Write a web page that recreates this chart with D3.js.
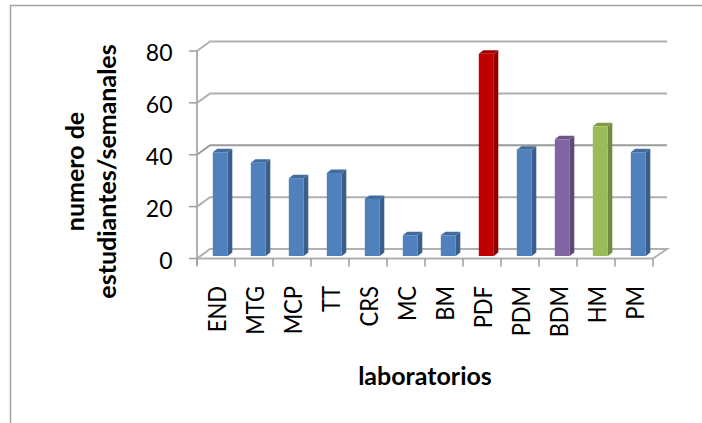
<!DOCTYPE html>
<html><head><meta charset="utf-8">
<script src="https://cdn.jsdelivr.net/npm/d3@7"></script>
<style>html,body{margin:0;padding:0;background:#fff}svg{display:block}text{font-family:Lato,"Open Sans",sans-serif;fill:#000}</style>
</head><body><div id="c"></div>
<script>
const categories=["END","MTG","MCP","TT","CRS","MC","BM","PDF","PDM","BDM","HM","PM"];
const values=[40,36,30,32,22,8,8,78,41,45,50,40];
const barColors=["#4f81bd","#4f81bd","#4f81bd","#4f81bd","#4f81bd","#4f81bd","#4f81bd","#c00000","#4f81bd","#8064a2","#9bbb59","#4f81bd"];
const yTicks=[0,20,40,60,80];
const yTitleLines=["numero de","estudiantes/semanales"];
const xTitle="laboratorios";
const W=702,H=423;
const svg=d3.select("#c").append("svg").attr("width",W).attr("height",H);
const defs=svg.append("defs");
defs.append("filter").attr("id","soft").append("feGaussianBlur").attr("stdDeviation",0.5);
const x=d3.scaleBand().domain(categories).range([197,653]).paddingInner(0).paddingOuter(0);
const y=d3.scaleLinear().domain([0,80]).range([258.5,51]);
const dx=13,dy=-9.5;
// frame
svg.append("path").attr("d",`M10.5,${H}V5.5H${W}`).attr("fill","none").attr("stroke","#a4a4a4").attr("stroke-width",1.5);
const g=svg.append("g").attr("filter","url(#soft)");
// gridlines and side wall
yTicks.forEach(t=>{
  g.append("path").attr("d",`M${x.range()[0]},${y(t)}L${x.range()[0]+dx},${y(t)+dy}H${x.range()[1]+dx+1}`+(t===0?`L${x.range()[1]},${y(t)}`:""))
   .attr("fill","none").attr("stroke",t%40===0&&t>0&&t<80?"#9a9a9a":"#b0b0b0").attr("stroke-width",2);
});
g.append("line").attr("x1",197).attr("x2",197).attr("y1",y(80)).attr("y2",y(0)+6).attr("stroke","#b0b0b0").attr("stroke-width",2);
g.append("line").attr("x1",197).attr("x2",653).attr("y1",y(0)).attr("y2",y(0)).attr("stroke","#b0b0b0").attr("stroke-width",2);
// ticks
g.selectAll(".yt").data(yTicks).join("line").attr("x1",189).attr("x2",197).attr("y1",d=>y(d)).attr("y2",d=>y(d)).attr("stroke","#9c9c9c").attr("stroke-width",1.5);
const xEdges=categories.map(c=>x(c)).concat([x.range()[1]]);
g.selectAll(".xt").data(xEdges).join("line").attr("x1",d=>d).attr("x2",d=>d).attr("y1",y(0)).attr("y2",y(0)+8).attr("stroke","#9c9c9c").attr("stroke-width",1.5);
// bars
const base=y(0)-2.5, bw=15, off=x.bandwidth()/2-3.2, sx=4.5, sy=3.5;
const bars=g.selectAll(".bar").data(categories.map((c,i)=>({c,v:values[i],col:barColors[i]}))).join("g");
const barTop=d=>base-(y(0)-y(d.v));
bars.append("path").attr("d",d=>{const l=x(d.c)+off,r=l+bw,t=barTop(d);return `M${r},${base}V${t}L${r+sx},${t-sy}V${base-sy}Z`;})
  .attr("fill",d=>d3.color(d.col).darker(0.85));
bars.append("path").attr("d",d=>{const l=x(d.c)+off,r=l+bw,t=barTop(d);return `M${l},${t}L${l+sx},${t-sy}H${r+sx}L${r},${t}Z`;})
  .attr("fill",d=>d3.color(d.col).darker(0.5));
bars.append("rect").attr("x",d=>x(d.c)+off).attr("y",barTop).attr("width",bw).attr("height",d=>base-barTop(d)).attr("fill",d=>d.col);
// y labels
svg.selectAll(".yl").data(yTicks).join("text").attr("x",172.5).attr("y",d=>y(d)+10).attr("text-anchor","end").attr("font-size",23).text(d=>d);
// x labels
svg.selectAll(".xl").data(categories).join("text")
  .attr("transform",c=>`translate(${x(c)+x.bandwidth()/2+9.5},286) rotate(-90) scale(1,1.18)`)
  .attr("text-anchor","end").attr("font-size",22).text(c=>c);
// titles
const yT=svg.append("text").attr("transform","translate(0,171.5) rotate(-90)").attr("text-anchor","middle").attr("font-size",25).attr("font-weight","bold");
yTitleLines.forEach((l,i)=>yT.append("tspan").attr("x",0).attr("y",84+i*32).text(l));
svg.append("text").attr("x",425).attr("y",385).attr("text-anchor","middle").attr("font-size",25).attr("font-weight","bold").text(xTitle);
</script></body></html>
